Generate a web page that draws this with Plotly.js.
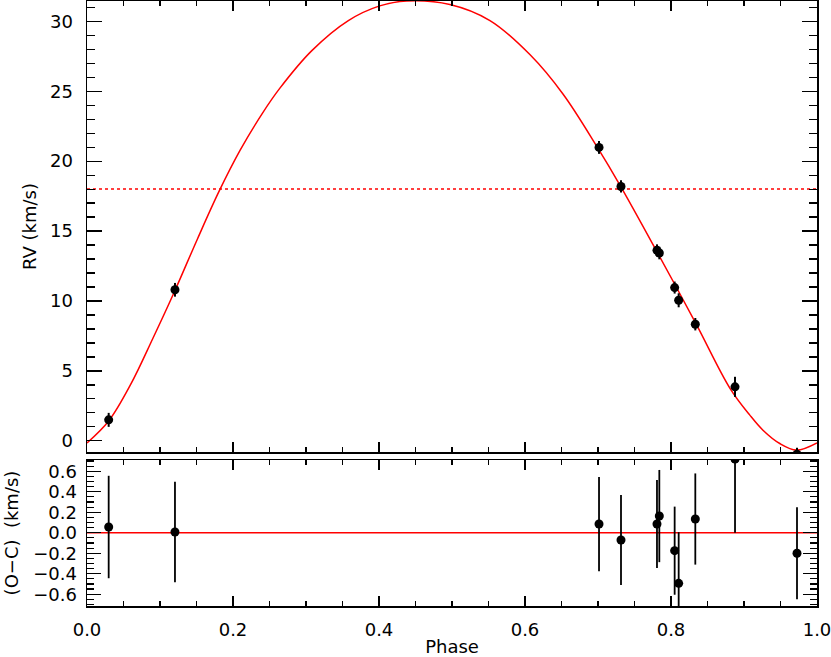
<!DOCTYPE html>
<html>
<head>
<meta charset="utf-8">
<script src="https://cdn.plot.ly/plotly-3.0.1.min.js"></script>
<style>
  html, body { margin: 0; padding: 0; background: #fff; }
  #rvplot { width: 831px; height: 657px; }
</style>
</head>
<body>
<div id="rvplot"></div>
<script>
// measured radial velocities, folded on orbital phase
var phase  = [0.0297, 0.1205, 0.7014, 0.7315, 0.7808, 0.784, 0.805, 0.8105, 0.8333, 0.8877, 0.9726];
var rv     = [1.5, 10.8, 20.98, 18.19, 13.62, 13.43, 10.96, 10.05, 8.34, 3.86, -0.95];
var rvErr  = [0.50, 0.49, 0.46, 0.44, 0.43, 0.45, 0.43, 0.50, 0.445, 0.72, 0.45];
// observed minus computed
var resid  = [0.056, 0.007, 0.085, -0.071, 0.085, 0.163, -0.175, -0.494, 0.134, 0.72, -0.2];

// orbit model
var modelPhase = [0, 0.03, 0.06, 0.09, 0.1205, 0.151, 0.181, 0.21, 0.24, 0.264, 0.308, 0.358,
                  0.401, 0.438, 0.497, 0.552, 0.607, 0.652, 0.699, 0.731, 0.781, 0.834, 0.881,
                  0.908, 0.926, 0.949, 0.972, 1.0];
var modelRv    = [-0.15, 1.44, 4.05, 7.3, 10.75, 14.4, 17.85, 20.8, 23.4, 25.2, 27.9, 30.05,
                  31.1, 31.45, 31.2, 30.05, 27.6, 24.8, 21.0, 18.2, 13.5, 8.4, 3.74,
                  1.84, 0.76, -0.19, -0.66, -0.14];

var gamma = 18;   // systemic velocity
var zero = 0;

var tickFont  = {family: 'DejaVu Sans, sans-serif', size: 18, color: '#000'};
var titleFont = {family: 'DejaVu Sans, sans-serif', size: 18, color: '#000'};

var model = {
    x: modelPhase, y: modelRv,
    xaxis: 'x2', yaxis: 'y2',
    mode: 'lines', line: {color: '#ff0000', width: 1.5, shape: 'spline', smoothing: 1},
    hoverinfo: 'skip'
};

var obs = {
    x: phase, y: rv,
    xaxis: 'x2', yaxis: 'y2',
    mode: 'markers', marker: {color: '#000', size: 9},
    error_y: {type: 'data', array: rvErr, visible: true, color: '#000', thickness: 2, width: 0}
};

var oc = {
    x: phase, y: resid,
    xaxis: 'x', yaxis: 'y',
    mode: 'markers', marker: {color: '#000', size: 9},
    error_y: {type: 'data', array: rvErr, visible: true, color: '#000', thickness: 1.8, width: 0}
};

function xAxis(extra) {
    var a = {
        range: [0, 1], dtick: 0.2, tick0: 0,
        ticks: 'inside', ticklen: 10, tickwidth: 1.2, tickcolor: '#000',
        minor: {dtick: 0.05, ticks: 'inside', ticklen: 5, tickwidth: 1.2, tickcolor: '#000'},
        showline: true, linecolor: '#000', linewidth: 1.5, mirror: 'ticks',
        showgrid: false, zeroline: false,
        tickfont: tickFont, tickformat: '.1f', ticklabelstandoff: 7,
        ticklabeloverflow: 'allow'
    };
    for (var k in extra) a[k] = extra[k];
    return a;
}

var layout = {
    width: 831, height: 657,
    margin: {l: 87, r: 14, t: 1, b: 51},
    paper_bgcolor: '#fff', plot_bgcolor: '#fff',
    showlegend: false,
    font: tickFont,
    xaxis: xAxis({anchor: 'y', title: {text: 'Phase', font: titleFont, standoff: 2}}),
    xaxis2: xAxis({anchor: 'y2', matches: 'x', showticklabels: false}),
    yaxis: {
        domain: [0, 0.2413], range: [-0.715, 0.71], dtick: 0.2, tick0: 0,
        ticks: 'inside', ticklen: 14, tickwidth: 1.2, tickcolor: '#000',
        minor: {dtick: 0.05, ticks: 'inside', ticklen: 7, tickwidth: 1.2, tickcolor: '#000'},
        showline: true, linecolor: '#000', linewidth: 1.5, mirror: 'ticks',
        showgrid: false, zeroline: false, tickformat: '.1f',
        tickfont: tickFont, ticklabelstandoff: 5,
        title: {text: '(O\u2212C)\u00a0\u00a0(km/s)', font: titleFont, standoff: 10}
    },
    yaxis2: {
        domain: [0.2545, 1], range: [-0.8, 31.45], dtick: 5, tick0: 0,
        ticks: 'inside', ticklen: 15, tickwidth: 1.2, tickcolor: '#000',
        minor: {dtick: 1, ticks: 'inside', ticklen: 8, tickwidth: 1.2, tickcolor: '#000'},
        showline: true, linecolor: '#000', linewidth: 1.5, mirror: 'ticks',
        showgrid: false, zeroline: false,
        tickfont: tickFont, ticklabelstandoff: 9,
        title: {text: 'RV (km/s)', font: titleFont, standoff: 8}
    },
    shapes: [
        {type: 'line', xref: 'x2 domain', yref: 'y2', x0: 0, x1: 1, y0: gamma, y1: gamma,
         line: {color: '#ff0000', width: 1.5, dash: 'dot'}, layer: 'below'},
        {type: 'line', xref: 'x domain', yref: 'y', x0: 0, x1: 1, y0: zero, y1: zero,
         line: {color: '#ff0000', width: 1.5}, layer: 'below'}
    ]
};

Plotly.newPlot('rvplot', [model, obs, oc], layout, {displayModeBar: false, staticPlot: true});
</script>
</body>
</html>
